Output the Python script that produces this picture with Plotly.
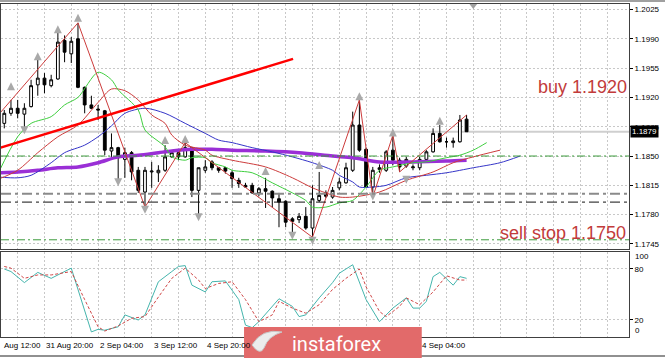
import plotly.graph_objects as go

# ---------------- data ----------------
candle_idx = list(range(70))
opens = [1.1889, 1.1901, 1.1907, 1.1900, 1.1909, 1.1935, 1.1943, 1.1934, 1.1942, 1.1988,
         1.1972, 1.1990, 1.1932, 1.1911, 1.1906, 1.1904, 1.1856, 1.1860, 1.1846, 1.1854,
         1.1833, 1.1807, 1.1831, 1.1830, 1.1833, 1.1849, 1.1854, 1.1849, 1.1860, 1.1809,
         1.1833, 1.1843, 1.1836, 1.1836, 1.1830, 1.1821, 1.1815, 1.1815, 1.1806, 1.1811,
         1.1808, 1.1799, 1.1796, 1.1775, 1.1774, 1.1778, 1.1764, 1.1797, 1.1806, 1.1801,
         1.1812, 1.1818, 1.1833, 1.1887, 1.1858, 1.1813, 1.1834, 1.1833, 1.1857, 1.1845,
         1.1838, 1.1836, 1.1836, 1.1846, 1.1855, 1.1877, 1.1867, 1.1866, 1.1867, 1.1894]
highs = [1.1905, 1.1917, 1.1917, 1.1913, 1.1941, 1.1965, 1.1949, 1.1947, 1.1997, 1.1994,
         1.1992, 1.2009, 1.1933, 1.1922, 1.1911, 1.1905, 1.1877, 1.1861, 1.1860, 1.1856,
         1.1837, 1.1837, 1.1843, 1.1839, 1.1863, 1.1857, 1.1855, 1.1866, 1.1861, 1.1836,
         1.1845, 1.1845, 1.1837, 1.1837, 1.1833, 1.1824, 1.1818, 1.1818, 1.1813, 1.1824,
         1.1809, 1.1806, 1.1797, 1.1777, 1.1782, 1.1789, 1.1815, 1.1831, 1.1809, 1.1813,
         1.1824, 1.1842, 1.1903, 1.1917, 1.1860, 1.1837, 1.1840, 1.1857, 1.1875, 1.1848,
         1.1849, 1.1840, 1.1849, 1.1857, 1.1883, 1.1887, 1.1872, 1.1872, 1.1899, 1.1899]
lows = [1.1883, 1.1898, 1.1895, 1.1883, 1.1908, 1.1922, 1.1925, 1.1932, 1.1941, 1.1962,
        1.1961, 1.1931, 1.1901, 1.1906, 1.1893, 1.1851, 1.1849, 1.1821, 1.1824, 1.1821,
        1.1806, 1.1789, 1.1812, 1.1819, 1.1831, 1.1848, 1.1845, 1.1848, 1.1801, 1.1778,
        1.1830, 1.1833, 1.1830, 1.1829, 1.1812, 1.1812, 1.1812, 1.1805, 1.1802, 1.1788,
        1.1789, 1.1765, 1.1765, 1.1758, 1.1770, 1.1762, 1.1753, 1.1795, 1.1800, 1.1799,
        1.1809, 1.1817, 1.1831, 1.1855, 1.1812, 1.1801, 1.1830, 1.1831, 1.1839, 1.1831,
        1.1836, 1.1833, 1.1833, 1.1845, 1.1854, 1.1866, 1.1860, 1.1860, 1.1866, 1.1879]
closes = [1.1901, 1.1907, 1.1901, 1.1907, 1.1934, 1.1943, 1.1935, 1.1941, 1.1986, 1.1974,
          1.1987, 1.1932, 1.1911, 1.1907, 1.1905, 1.1857, 1.1860, 1.1848, 1.1854, 1.1831,
          1.1809, 1.1833, 1.1832, 1.1833, 1.1849, 1.1854, 1.1849, 1.1860, 1.1809, 1.1836,
          1.1837, 1.1836, 1.1833, 1.1832, 1.1823, 1.1817, 1.1813, 1.1806, 1.1811, 1.1808,
          1.1800, 1.1795, 1.1771, 1.1772, 1.1778, 1.1764, 1.1799, 1.1803, 1.1802, 1.1809,
          1.1819, 1.1836, 1.1887, 1.1857, 1.1813, 1.1833, 1.1836, 1.1855, 1.1845, 1.1837,
          1.1846, 1.1837, 1.1846, 1.1855, 1.1877, 1.1867, 1.1867, 1.1868, 1.1893, 1.1879]

# Alligator-like shifted averages
lips_idx = [-1, 2, 4, 7, 9, 11, 14, 16, 17, 20, 21, 24, 25, 27, 28, 30, 31, 33, 34, 37,
            40, 43, 45, 46, 48, 50, 52, 54, 56, 58, 61, 63, 66, 68, 70, 72]
lips_val = [1.1828, 1.1873, 1.1889, 1.1897, 1.1911, 1.1920, 1.1950, 1.1941, 1.1929, 1.1905,
            1.1881, 1.1861, 1.1849, 1.1845, 1.1848, 1.1848, 1.1842, 1.1837, 1.1833, 1.1830,
            1.1818, 1.1806, 1.1797, 1.1789, 1.1789, 1.1794, 1.1797, 1.1813, 1.1833, 1.1837,
            1.1842, 1.1843, 1.1848, 1.1851, 1.1857, 1.1866]
teeth_idx = [-1, 2, 5, 8, 11, 14, 16, 18, 20, 22, 24, 25, 27, 30, 31, 34, 39, 43, 46, 48,
             50, 52, 56, 60, 64, 67, 70, 74]
teeth_val = [1.1822, 1.1833, 1.1854, 1.1873, 1.1887, 1.1914, 1.1930, 1.1928, 1.1917, 1.1899,
             1.1889, 1.1875, 1.1863, 1.1857, 1.1851, 1.1845, 1.1837, 1.1824, 1.1812, 1.1806,
             1.1801, 1.1801, 1.1807, 1.1821, 1.1831, 1.1842, 1.1849, 1.1857]
jaw_idx = [-1, 2, 4, 7, 9, 12, 14, 16, 18, 21, 24, 27, 30, 32, 34, 37, 40, 43, 46, 49,
           50, 52, 53, 55, 57, 60, 63, 66, 70, 74, 77]
jaw_val = [1.1825, 1.1824, 1.1827, 1.1842, 1.1854, 1.1863, 1.1873, 1.1886, 1.1901, 1.1907,
           1.1901, 1.1889, 1.1877, 1.1869, 1.1866, 1.1860, 1.1855, 1.1849, 1.1842, 1.1833,
           1.1827, 1.1819, 1.1813, 1.1813, 1.1815, 1.1824, 1.1827, 1.1830, 1.1836, 1.1842, 1.1850]
slow_ma_idx = [-1, 2, 5, 8, 11, 14, 17, 20, 23, 25, 28, 31, 34, 39, 44, 49, 52, 56, 61, 66, 69]
slow_ma_val = [1.1830, 1.1831, 1.1833, 1.1836, 1.1837, 1.1842, 1.1849, 1.1851, 1.1854, 1.1856,
               1.1858, 1.1858, 1.1857, 1.1856, 1.1854, 1.1850, 1.1848, 1.1843, 1.1843, 1.1844, 1.1845]

zigzag_idx = [-1, 11, 21, 27, 46, 53, 55, 58, 59, 69]
zigzag_val = [1.1898, 1.2009, 1.1789, 1.1866, 1.1753, 1.1917, 1.1801, 1.1875, 1.1831, 1.1899]

trend_idx = [-1, 43.1]
trend_val = [1.1859, 1.1966]

fractal_up_idx = [1, 5, 8, 11, 24, 27, 39, 47, 53, 58, 65]
fractal_up_val = [1.1938, 1.1974, 1.2006, 1.2020, 1.1874, 1.1875, 1.1837, 1.1844, 1.1926, 1.1883, 1.1897]
fractal_dn_idx = [3, 17, 21, 29, 43, 46, 55, 60]
fractal_dn_val = [1.1876, 1.1814, 1.1781, 1.1772, 1.1750, 1.1744, 1.1797, 1.1817]

# horizontal levels
level_green = [1.1850, 1.1750]
level_gray = 1.1805
level_black = 1.1795
bid_price = 1.1879

# stochastic
stoch_main_idx = [0, 1, 3, 5, 7, 9, 10, 13, 14, 15, 17, 18, 20, 21, 23, 25, 26, 27, 28, 30,
                  31, 33, 35, 36, 37, 38, 41, 43, 44, 45, 47, 49, 50, 52, 53, 54, 56, 58, 60,
                  61, 62, 63, 64, 65, 67, 68, 69]
stoch_main_val = [80, 77, 64, 76, 69, 77, 81, 6, 9, 8, 12, 26, 20, 26, 65, 77, 83, 84, 61, 53,
                  65, 66, 44, 14, 11, 18, 45, 36, 24, 26, 46, 64, 75, 85, 64, 44, 18, 34, 46,
                  34, 34, 42, 71, 76, 61, 71, 69]
stoch_sig_idx = [0, 1, 3, 5, 7, 9, 10, 12, 14, 15, 17, 19, 21, 23, 25, 27, 29, 30, 32, 34,
                 36, 38, 40, 41, 43, 45, 47, 49, 51, 53, 54, 56, 57, 59, 60, 62, 64, 66, 68, 69]
stoch_sig_val = [83, 81, 69, 73, 73, 76, 77, 44, 12, 7, 13, 22, 24, 47, 69, 81, 67, 57, 63, 65,
                 44, 18, 26, 42, 34, 28, 38, 56, 69, 80, 59, 30, 24, 36, 46, 38, 53, 72, 67, 67]

price_ticks = [1.1745, 1.1780, 1.1815, 1.1850, 1.1885, 1.1920, 1.1955, 1.1990, 1.2025]
stoch_ticks = [0, 20, 80, 100]
time_labels = ["Aug 12:00", "31 Aug 20:00", "2 Sep 04:00", "3 Sep 12:00", "4 Sep 20:00", "4 Sep 04:00"]
time_label_idx = [-0.34, 6, 14, 22, 30, 62]

# ---------------- figure ----------------
GRID = "#c8c8c8"
FONT = "Liberation Sans, Arial, sans-serif"
fig = go.Figure()

fig.add_trace(go.Candlestick(
    x=candle_idx, open=opens, high=highs, low=lows, close=closes,
    increasing=dict(line=dict(color="black", width=1), fillcolor="white"),
    decreasing=dict(line=dict(color="black", width=1), fillcolor="black"),
    whiskerwidth=0, hoverinfo="skip", xaxis="x", yaxis="y"))

def line(xs, ys, color, width, dash="solid", shape="spline", xa="x", ya="y"):
    fig.add_trace(go.Scatter(x=xs, y=ys, mode="lines", hoverinfo="skip",
                             line=dict(color=color, width=width, dash=dash, shape=shape,
                                       smoothing=0.8 if shape == "spline" else None),
                             xaxis=xa, yaxis=ya))

line(slow_ma_idx, slow_ma_val, "#9a2fd6", 3.5)
line(jaw_idx, jaw_val, "#3535c8", 1)
line(teeth_idx, teeth_val, "#cd3c3c", 1)
line(lips_idx, lips_val, "#3fcf3f", 1)
line(zigzag_idx, zigzag_val, "#cd3c3c", 1, shape="linear")
line(trend_idx, trend_val, "#ff0000", 2.5, shape="linear")

fig.add_trace(go.Scatter(x=fractal_up_idx, y=fractal_up_val, mode="markers", hoverinfo="skip",
                         marker=dict(symbol="arrow-up", size=8, color="#a9a9a9"), xaxis="x", yaxis="y"))
fig.add_trace(go.Scatter(x=fractal_dn_idx, y=fractal_dn_val, mode="markers", hoverinfo="skip",
                         marker=dict(symbol="arrow-down", size=8, color="#a9a9a9"), xaxis="x", yaxis="y"))
# chart-shift marker at top
fig.add_trace(go.Scatter(x=[70], y=[1.20297], mode="markers", hoverinfo="skip", cliponaxis=False,
                         marker=dict(symbol="triangle-down", size=7, color="#a0a0a0"), xaxis="x", yaxis="y"))

line(stoch_main_idx, stoch_main_val, "#45b5ad", 1, shape="linear", xa="x2", ya="y2")
line(stoch_sig_idx, stoch_sig_val, "#d04848", 1, dash="3px,2px", shape="linear", xa="x2", ya="y2")

shapes = []
shapes.append(dict(type="line", xref="paper", x0=0, x1=1, yref="y", y0=bid_price, y1=bid_price,
                   line=dict(color="#cfcfcf", width=2), layer="below"))
for lv in level_green:
    shapes.append(dict(type="line", xref="paper", x0=0, x1=1, yref="y", y0=lv, y1=lv,
                       line=dict(color="#3c9b3c", width=1, dash="8px,3px,2px,3px")))
shapes.append(dict(type="line", xref="paper", x0=0, x1=1, yref="y", y0=level_gray, y1=level_gray,
                   line=dict(color="#8a8a8a", width=2, dash="10px,4px,3px,4px")))
shapes.append(dict(type="line", xref="paper", x0=0, x1=1, yref="y", y0=level_black, y1=level_black,
                   line=dict(color="#111111", width=1, dash="10px,4px,3px,4px")))
# window frame lines
shapes.append(dict(type="line", xref="paper", x0=-0.01, x1=1.06, yref="paper", y0=1.009, y1=1.009,
                   line=dict(color="#a0a0a0", width=2)))
shapes.append(dict(type="line", xref="paper", x0=-0.01, x1=1.06, yref="paper", y0=-0.057, y1=-0.057,
                   line=dict(color="#909090", width=2)))
# instaforex logo box and emblem
shapes.append(dict(type="rect", xref="paper", yref="paper", x0=0.387, x1=0.670, y0=-0.07, y1=0.030,
                   fillcolor="#e26a6a", line=dict(width=0), layer="above"))
shapes.append(dict(type="path", xref="paper", yref="paper", layer="above",
                   path="M 0.3997,-0.0240 Q 0.4156,0.0270 0.4475,0.0150 Q 0.4252,0.0030 0.4188,-0.0330 "
                        "Q 0.4124,-0.0571 0.3997,-0.0240 Z",
                   fillcolor="#ececec", line=dict(color="#c8c8c8", width=1)))

annotations = []
for t, i in zip(time_labels, time_label_idx):
    annotations.append(dict(text=t, x=i, xref="x2", y=-0.0255, yref="paper", xanchor="left",
                            yanchor="middle", showarrow=False, font=dict(family=FONT, size=8, color="#000")))
for v, yshift in [(100, -5), (0, 6)]:
    annotations.append(dict(text=str(v), x=1, xref="paper", xshift=4, y=v, yref="y2", yshift=yshift,
                            xanchor="left", yanchor="middle", showarrow=False,
                            font=dict(family=FONT, size=8, color="#000")))
annotations.append(dict(text=f"{bid_price:.4f}", x=1, xref="paper", xshift=1, y=bid_price, yref="y",
                        xanchor="left", yanchor="middle", showarrow=False, bgcolor="#000000",
                        borderpad=1, font=dict(family=FONT, size=8, color="#ffffff")))
annotations.append(dict(text="buy 1.1920", x=0.852, xref="paper", y=1.1932, yref="y", xanchor="left",
                        yanchor="middle", showarrow=False, font=dict(family=FONT, size=18, color="#c23b3b")))
annotations.append(dict(text="sell stop 1.1750", x=0.791, xref="paper", y=1.1758, yref="y", xanchor="left",
                        yanchor="middle", showarrow=False, font=dict(family=FONT, size=18, color="#c23b3b")))
annotations.append(dict(text="instaforex", x=0.46, xref="paper", y=-0.022, yref="paper", xanchor="left",
                        yanchor="middle", showarrow=False,
                        font=dict(family="Roboto, sans-serif", size=20, color="#ffffff")))

axis_common = dict(showline=True, linecolor="#404040", linewidth=1, mirror=True, zeroline=False,
                   gridcolor=GRID, griddash="2px,2px", gridwidth=1)
grid_idx = list(range(2, 94, 4))

fig.update_layout(
    width=665, height=358, margin=dict(l=1, r=36, t=4, b=21),
    paper_bgcolor="white", plot_bgcolor="white", showlegend=False, boxgap=0.4,
    font=dict(family=FONT, size=8, color="#000"),
    xaxis=dict(domain=[0, 1], range=[-0.49, 93.24], anchor="y", tickvals=grid_idx,
               showticklabels=False, ticks="", showgrid=True, rangeslider=dict(visible=False), **axis_common),
    xaxis2=dict(domain=[0, 1], range=[-0.49, 93.24], anchor="y2", matches="x", tickvals=grid_idx,
                showticklabels=False, ticks="", showgrid=True, **axis_common),
    yaxis=dict(domain=[0.26426, 1], range=[1.17390, 1.20315], side="right", tickvals=price_ticks,
               ticktext=[f"{v:.4f}" for v in price_ticks], ticks="outside", ticklen=3, tickcolor="#000",
               showgrid=True, tickfont=dict(family=FONT, size=8), **axis_common),
    yaxis2=dict(domain=[0, 0.25526], range=[0, 100], side="right", tickvals=stoch_ticks[1:3],
                ticktext=[str(v) for v in stoch_ticks[1:3]], ticks="outside", ticklen=3, tickcolor="#000",
                showgrid=True, tickfont=dict(family=FONT, size=8), **axis_common),
    shapes=shapes, annotations=annotations,
)

fig.write_html("out.html", config={"displayModeBar": False},
               post_script="document.body.style.margin='0';document.body.style.overflow='hidden';")
